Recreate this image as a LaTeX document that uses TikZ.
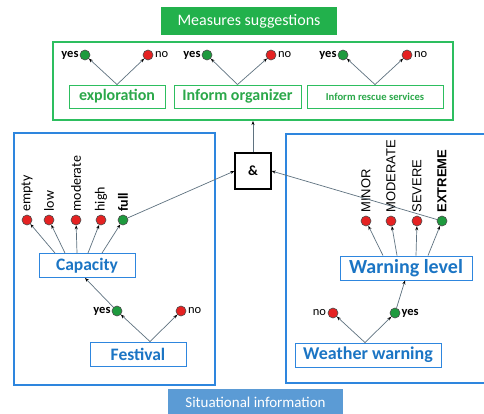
\documentclass[tikz,border=0pt]{standalone}
\usepackage{fontspec}
\setmainfont{Carlito}
\newfontfamily\arialfont{Liberation Sans}
\usetikzlibrary{arrows.meta}

\definecolor{msgreen}{HTML}{22B14C}
\definecolor{boxgreen}{HTML}{2DBE5F}
\definecolor{txtgreen}{HTML}{2BA84A}
\definecolor{sitblue}{HTML}{5B9BD5}
\definecolor{frameblue}{HTML}{2E86DE}
\definecolor{txtblue}{HTML}{1B75C4}
\definecolor{dotred}{HTML}{E52222}
\definecolor{dotgreen}{HTML}{1E9A3E}
\definecolor{linegray}{HTML}{5F7280}

\begin{document}
\begin{tikzpicture}[x=1pt,y=-1pt,
  dot/.style={circle,draw=black!70,line width=0.6pt,minimum size=10pt,inner sep=0pt},
  yesdot/.style={dot,fill=dotgreen},
  nodot/.style={dot,fill=dotred},
  yeslbl/.style={font=\bfseries\fontsize{12.5}{13}\selectfont,inner sep=1pt},
  nolbl/.style={font=\fontsize{12.5}{13}\selectfont,inner sep=1.5pt},
  conn/.style={draw=linegray,line width=0.7pt,-{Stealth[length=4pt,width=3pt,black]}},
  actbox/.style={draw=boxgreen,line width=0.9pt,text=txtgreen,minimum height=23pt,inner sep=0pt},
  sitbox/.style={draw=frameblue,line width=0.9pt,text=txtblue,minimum height=24pt,inner sep=0pt,
                 font=\bfseries\fontsize{17.5}{19}\selectfont},
  caplbl/.style={rotate=90,anchor=west,inner sep=0pt,font=\fontsize{14}{15}\selectfont},
  warnlbl/.style={rotate=90,anchor=west,inner sep=0pt,font=\arialfont\fontsize{13}{14}\selectfont}]

\useasboundingbox[fill=white] (0,0) rectangle (484,413);

% Measures suggestions
\node[fill=msgreen,text=white,minimum width=176,minimum height=28,
      font=\fontsize{16}{18}\selectfont] (measures) at (249,21) {Measures suggestions};
\node[draw=boxgreen,line width=2pt,minimum width=400,minimum height=78] (measframe) at (253,81) {};

\node[actbox,minimum width=96,font=\bfseries\fontsize{16}{18}\selectfont] (explo) at (117,96.5) {exploration};
\node[actbox,minimum width=127,font=\bfseries\fontsize{16}{18}\selectfont] (orga) at (237.5,96.5) {Inform organizer};
\node[actbox,minimum width=136,font=\bfseries\fontsize{10.6}{12}\selectfont] (rescue) at (375,96.5) {Inform rescue services};

\node[yesdot,label={[yeslbl]left:yes}] (exyes) at (85,55) {};
\node[nodot,label={[nolbl]right:no}] (exno) at (148,55) {};
\node[yesdot,label={[yeslbl]left:yes}] (oryes) at (207,55) {};
\node[nodot,label={[nolbl]right:no}] (orno) at (271,55) {};
\node[yesdot,label={[yeslbl]left:yes}] (resyes) at (343,55) {};
\node[nodot,label={[nolbl]right:no}] (resno) at (407,55) {};

\draw[conn] (explo.north) -- (exyes);
\draw[conn] (explo.north) -- (exno);
\draw[conn] (orga.north) -- (oryes);
\draw[conn] (orga.north) -- (orno);
\draw[conn] (rescue.north) -- (resyes);
\draw[conn] (rescue.north) -- (resno);

% combination
\node[draw,line width=1.2pt,minimum width=36,minimum height=36,
      font=\bfseries\fontsize{14}{15}\selectfont] (and) at (253,171) {\&};
\draw[conn] (and.north) -- (measframe.south);

% Situational information : capacity / festival
\node[draw=frameblue,line width=1.5pt,minimum width=201,minimum height=252] (capframe) at (114.5,259) {};

\node[nodot] (cempty) at (27,220) {};
\node[nodot] (clow) at (49,220) {};
\node[nodot] (cmod) at (76,220) {};
\node[nodot] (chigh) at (101,220) {};
\node[yesdot] (cfull) at (123,220) {};
\node[caplbl] at ([yshift=3]cempty.north) {empty};
\node[caplbl] at ([yshift=3]clow.north) {low};
\node[caplbl] at ([yshift=3]cmod.north) {moderate};
\node[caplbl] at ([yshift=3]chigh.north) {high};
\node[caplbl,font=\bfseries\fontsize{14}{15}\selectfont] at ([yshift=3]cfull.north) {full};

\node[sitbox,minimum width=96] (cap) at (87,265.5) {Capacity};
\draw[conn] ([xshift=-32]cap.north) -- (cempty);
\draw[conn] ([xshift=-22]cap.north) -- (clow);
\draw[conn] ([xshift=-10]cap.north) -- (cmod);
\draw[conn] ([xshift=1]cap.north) -- (chigh);
\draw[conn] ([xshift=15]cap.north) -- (cfull);

\node[sitbox,minimum width=96] (fest) at (138,354) {Festival};
\node[yesdot,label={[yeslbl]left:yes}] (fesyes) at (117,311) {};
\node[nodot,label={[nolbl]right:no}] (fesno) at (181,311) {};
\draw[conn] ([xshift=12]fest.north) -- (fesyes);
\draw[conn] ([xshift=12]fest.north) -- (fesno);
\draw[conn] (fesyes) -- ([xshift=-2]cap.south);

\draw[conn] (cfull) -- (and.west);

% Situational information : weather
\node[draw=frameblue,line width=1.5pt,minimum width=206,minimum height=249,anchor=west] (warnframe) at (285,258.5) {};

\node[nodot] (wminor) at (366,221) {};
\node[nodot] (wmod) at (391,221) {};
\node[nodot] (wsev) at (417,221) {};
\node[yesdot] (wext) at (442,221) {};
\node[warnlbl] at ([yshift=3]wminor.north) {MINOR};
\node[warnlbl] at ([yshift=3]wmod.north) {MODERATE};
\node[warnlbl] at ([yshift=3]wsev.north) {SEVERE};
\node[warnlbl,font=\arialfont\bfseries\fontsize{13}{14}\selectfont] at ([yshift=3]wext.north) {EXTREME};

\node[sitbox,minimum width=132,font=\bfseries\fontsize{20}{22}\selectfont] (warn) at (406,268) {Warning level};
\draw[conn] ([xshift=-23]warn.north) -- (wminor);
\draw[conn] ([xshift=-9]warn.north) -- (wmod);
\draw[conn] ([xshift=10]warn.north) -- (wsev);
\draw[conn] ([xshift=22]warn.north) -- (wext);

\node[sitbox,minimum width=146,font=\bfseries\fontsize{18}{20}\selectfont] (weather) at (368,355) {Weather warning};
\node[nodot,label={[nolbl]left:no}] (wwno) at (333,313) {};
\node[yesdot,label={[yeslbl]right:yes}] (wwyes) at (395,313) {};
\draw[conn] ([xshift=-3]weather.north) -- (wwno);
\draw[conn] ([xshift=-3]weather.north) -- (wwyes);
\draw[conn] (wwyes) -- ([xshift=-1]warn.south);

\draw[conn] (wext) -- (and.east);

\node[fill=sitblue,text=white,minimum width=175,minimum height=26,anchor=north,
      font=\fontsize{15}{17}\selectfont] (sitinfo) at (255.5,389) {Situational information};

\end{tikzpicture}
\end{document}
